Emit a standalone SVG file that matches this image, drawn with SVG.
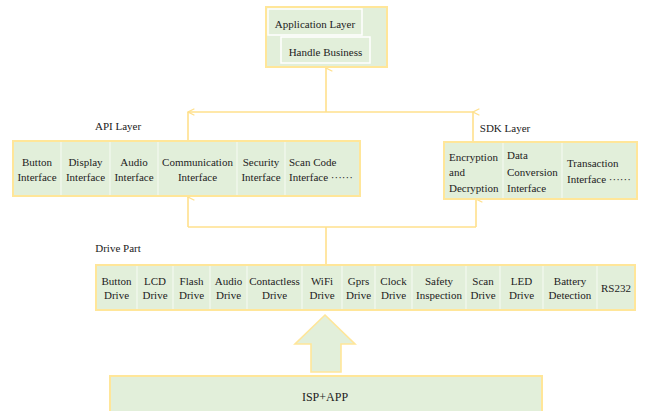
<svg xmlns="http://www.w3.org/2000/svg" width="646" height="411" viewBox="0 0 646 411">
  <style>
    .box { fill: #E2EFDA; stroke: #FFE699; stroke-width: 2; }
    .inner { fill: #E2EFDA; stroke: #FFFFFF; stroke-width: 1.5; }
    .div { stroke: #F4F8F0; stroke-width: 1.2; }
    text { font-family: 'Liberation Serif', 'Times New Roman', 'DejaVu Serif', serif; font-size: 11px; fill: #222222; }
    .c { text-anchor: middle; }
    .conn { fill: none; stroke: #FFE08C; stroke-width: 1.6; }
  </style>
  <defs>
    <marker id="up" viewBox="0 0 10 10" refX="5" refY="1" markerWidth="8" markerHeight="8" markerUnits="userSpaceOnUse" orient="auto">
      <path d="M1,9 L5,1 L9,9" fill="none" stroke="#FFE08C" stroke-width="1.6"/>
    </marker>
  </defs>

  <!-- connectors -->
  <g id="connectors">
    <path class="conn" d="M326,112 V68" marker-end="url(#up)"/>
    <path class="conn" d="M188,112 H473"/>
    <path class="conn" d="M188,141 V112" marker-end="url(#up)"/>
    <path class="conn" d="M473,142 V112" marker-end="url(#up)"/>
    <path class="conn" d="M326,265 V227"/>
    <path class="conn" d="M188,227 H476"/>
    <path class="conn" d="M188,227 V197" marker-end="url(#up)"/>
    <path class="conn" d="M476,227 V199" marker-end="url(#up)"/>
    <path d="M325,315 L355,344 H341 V372 H311 V344 H295 Z" fill="#E2EFDA" stroke="#FFE699" stroke-width="1.6"/>
  </g>

  <!-- application layer -->
  <g id="app-layer" font-family="Liberation Serif">
    <rect class="box" x="266" y="7" width="121" height="60"/>
    <rect class="inner" x="268" y="9" width="94" height="26"/>
    <rect class="inner" x="281" y="37" width="89" height="26"/>
    <text class="c" x="315" y="28">Application Layer</text>
    <text class="c" x="325.5" y="56">Handle Business</text>
  </g>

  <!-- API layer -->
  <g id="api-layer">
    <text class="c" x="118" y="130">API Layer</text>
    <rect class="box" x="13" y="141" width="347" height="55"/>
    <path class="div" d="M61,142 V195 M110,142 V195 M158,142 V195 M237,142 V195 M285,142 V195"/>
    <text class="c" x="37" y="166">Button</text>
    <text class="c" x="37" y="181">Interface</text>
    <text class="c" x="85.5" y="166">Display</text>
    <text class="c" x="85.5" y="181">Interface</text>
    <text class="c" x="134" y="166">Audio</text>
    <text class="c" x="134" y="181">Interface</text>
    <text class="c" x="197.5" y="166">Communication</text>
    <text class="c" x="197.5" y="181">Interface</text>
    <text class="c" x="261" y="166">Security</text>
    <text class="c" x="261" y="181">Interface</text>
    <text x="289" y="166">Scan Code</text>
    <text x="289" y="181">Interface ······</text>
  </g>

  <!-- SDK layer -->
  <g id="sdk-layer">
    <text class="c" x="505" y="132">SDK Layer</text>
    <rect class="box" x="444" y="142" width="193" height="57"/>
    <path class="div" d="M503,143 V198 M562,143 V198"/>
    <text x="449" y="161">Encryption</text>
    <text x="449" y="176">and</text>
    <text x="449" y="192">Decryption</text>
    <text x="507" y="159">Data</text>
    <text x="507" y="176">Conversion</text>
    <text x="507" y="192">Interface</text>
    <text x="567" y="167">Transaction</text>
    <text x="567" y="183">Interface ······</text>
  </g>

  <!-- drive part -->
  <g id="drive-part">
    <text class="c" x="118" y="252">Drive Part</text>
    <rect class="box" x="96" y="265" width="539" height="45"/>
    <path class="div" d="M137,266 V309 M173,266 V309 M210,266 V309 M247,266 V309 M302,266 V309 M342,266 V309 M375,266 V309 M412,266 V309 M466,266 V309 M500,266 V309 M543,266 V309 M597,266 V309"/>
    <text class="c" x="116.5" y="285">Button</text>
    <text class="c" x="116.5" y="299">Drive</text>
    <text class="c" x="155" y="285">LCD</text>
    <text class="c" x="155" y="299">Drive</text>
    <text class="c" x="191.5" y="285">Flash</text>
    <text class="c" x="191.5" y="299">Drive</text>
    <text class="c" x="228.5" y="285">Audio</text>
    <text class="c" x="228.5" y="299">Drive</text>
    <text class="c" x="274.5" y="285">Contactless</text>
    <text class="c" x="274.5" y="299">Drive</text>
    <text class="c" x="322" y="285">WiFi</text>
    <text class="c" x="322" y="299">Drive</text>
    <text class="c" x="358.5" y="285">Gprs</text>
    <text class="c" x="358.5" y="299">Drive</text>
    <text class="c" x="393.5" y="285">Clock</text>
    <text class="c" x="393.5" y="299">Drive</text>
    <text class="c" x="439" y="285">Safety</text>
    <text class="c" x="439" y="299">Inspection</text>
    <text class="c" x="483" y="285">Scan</text>
    <text class="c" x="483" y="299">Drive</text>
    <text class="c" x="521.5" y="285">LED</text>
    <text class="c" x="521.5" y="299">Drive</text>
    <text class="c" x="570" y="285">Battery</text>
    <text class="c" x="570" y="299">Detection</text>
    <text class="c" x="616" y="292">RS232</text>
  </g>

  <!-- ISP+APP -->
  <g id="isp-app">
    <rect class="box" x="110" y="376" width="432" height="36"/>
    <text class="c" x="325" y="401" style="font-size:12px">ISP+APP</text>
  </g>
</svg>
